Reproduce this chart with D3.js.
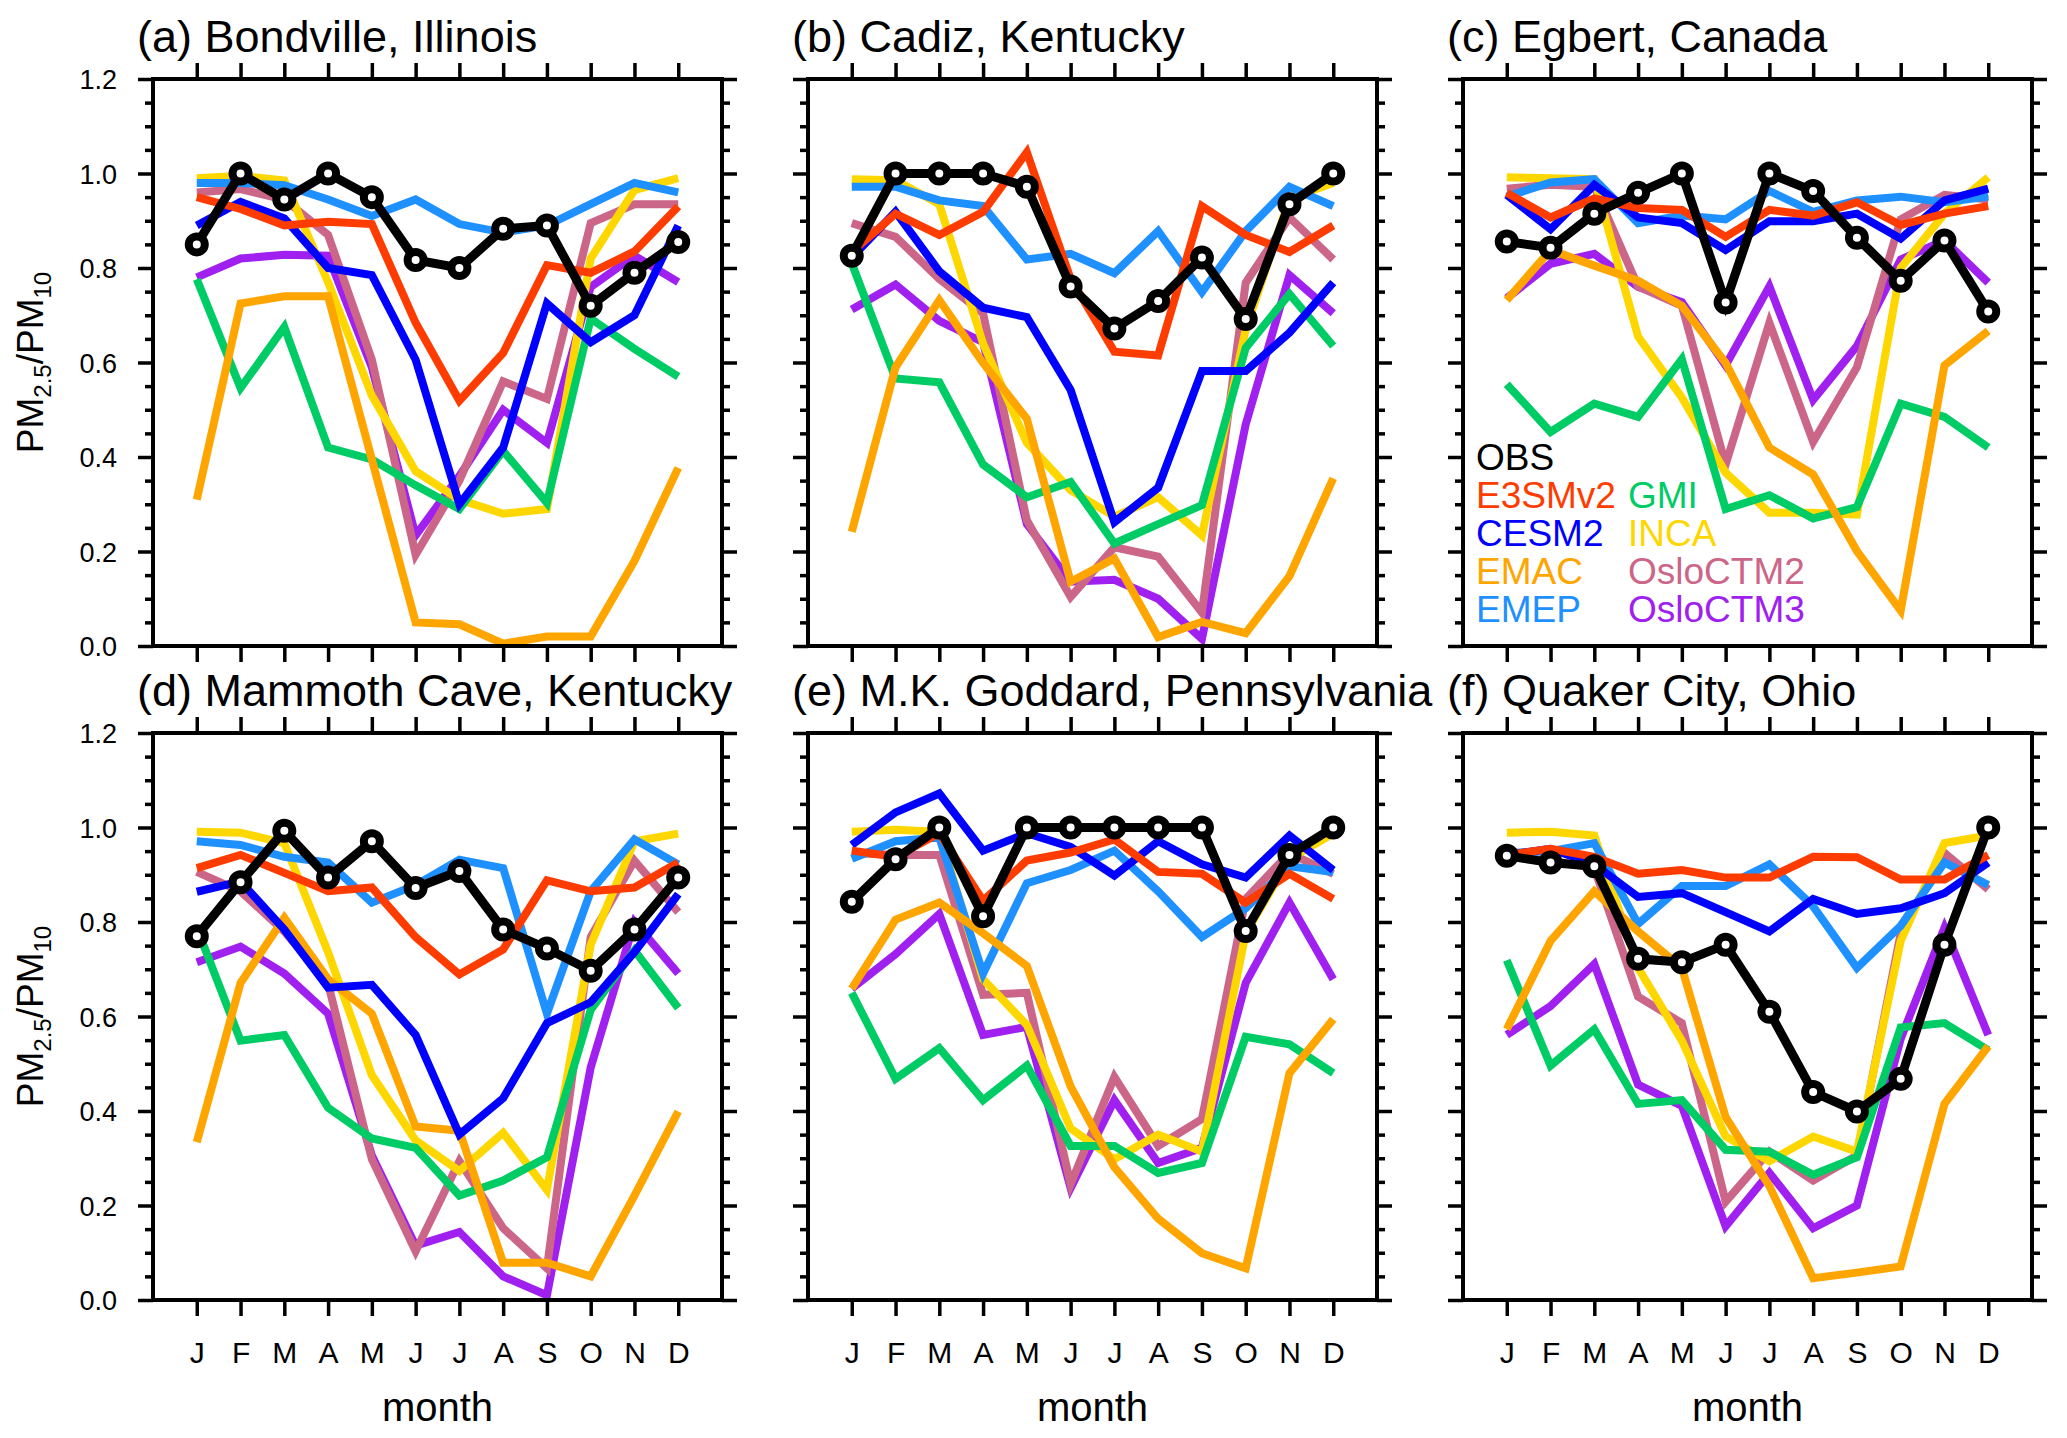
<!DOCTYPE html>
<html>
<head>
<meta charset="utf-8">
<script src="https://cdn.jsdelivr.net/npm/d3@7"></script>
<style>
  body { margin: 0; background: #fff; }
  text { font-family: "Liberation Sans", Arial, Helvetica, sans-serif; fill: #000; }
</style>
</head>
<body>
<div id="plot"></div>
<script>
const months = ["J", "F", "M", "A", "M", "J", "J", "A", "S", "O", "N", "D"];
const sites = ["(a) Bondville, Illinois", "(b) Cadiz, Kentucky", "(c) Egbert, Canada",
               "(d) Mammoth Cave, Kentucky", "(e) M.K. Goddard, Pennsylvania", "(f) Quaker City, Ohio"];
const models = ["OBS", "E3SMv2", "CESM2", "EMAC", "EMEP", "GMI", "INCA", "OsloCTM2", "OsloCTM3"];
const colors = ["#000000", "#ff3c00", "#0000ff", "#ffa500", "#1e90ff", "#00cc66", "#ffd700", "#cc6688", "#a020f0"];
const yTicks = [0, 0.2, 0.4, 0.6, 0.8, 1.0, 1.2];

// one row per site (a..f), 12 monthly PM2.5/PM10 ratios each
const obs = [
  [0.85, 1.0, 0.945, 1.0, 0.95, 0.817, 0.80, 0.883, 0.89, 0.72, 0.79, 0.855],
  [0.826, 1.0, 1.0, 1.0, 0.972, 0.761, 0.672, 0.73, 0.822, 0.692, 0.935, 1.0],
  [0.856, 0.843, 0.915, 0.959, 1.0, 0.727, 1.0, 0.963, 0.864, 0.773, 0.858, 0.708],
  [0.77, 0.884, 0.993, 0.894, 0.971, 0.872, 0.908, 0.784, 0.744, 0.697, 0.784, 0.894],
  [0.843, 0.933, 1.0, 0.812, 1.0, 1.0, 1.0, 1.0, 1.0, 0.781, 0.942, 1.0],
  [0.94, 0.926, 0.918, 0.722, 0.715, 0.752, 0.61, 0.44, 0.399, 0.468, 0.752, 1.0]
];
const e3smv2 = [
  [0.95, 0.925, 0.89, 0.898, 0.893, 0.684, 0.519, 0.62, 0.806, 0.79, 0.835, 0.93],
  [0.834, 0.915, 0.87, 0.919, 1.045, 0.777, 0.623, 0.615, 0.931, 0.87, 0.834, 0.89],
  [0.959, 0.907, 0.947, 0.927, 0.923, 0.866, 0.923, 0.911, 0.939, 0.891, 0.915, 0.931],
  [0.914, 0.942, 0.904, 0.865, 0.873, 0.768, 0.689, 0.742, 0.888, 0.865, 0.873, 0.926],
  [0.951, 0.938, 0.988, 0.845, 0.93, 0.947, 0.975, 0.906, 0.902, 0.841, 0.902, 0.849],
  [0.942, 0.955, 0.938, 0.902, 0.91, 0.894, 0.894, 0.938, 0.937, 0.89, 0.89, 0.942]
];
const cesm2 = [
  [0.89, 0.94, 0.905, 0.80, 0.785, 0.606, 0.30, 0.42, 0.725, 0.643, 0.70, 0.89],
  [0.822, 0.919, 0.793, 0.716, 0.696, 0.542, 0.262, 0.335, 0.582, 0.582, 0.663, 0.769],
  [0.955, 0.882, 0.976, 0.907, 0.895, 0.838, 0.899, 0.899, 0.915, 0.862, 0.943, 0.968],
  [0.864, 0.886, 0.784, 0.661, 0.667, 0.561, 0.35, 0.427, 0.586, 0.63, 0.736, 0.859],
  [0.963, 1.032, 1.072, 0.951, 0.988, 0.959, 0.898, 0.971, 0.922, 0.894, 0.983, 0.91],
  [0.942, 0.955, 0.922, 0.853, 0.861, 0.821, 0.78, 0.849, 0.817, 0.829, 0.861, 0.926]
];
const emac = [
  [0.31, 0.725, 0.74, 0.74, 0.395, 0.05, 0.046, 0.005, 0.02, 0.02, 0.18, 0.377],
  [0.242, 0.59, 0.732, 0.599, 0.481, 0.136, 0.185, 0.019, 0.051, 0.027, 0.148, 0.355],
  [0.732, 0.838, 0.805, 0.773, 0.72, 0.599, 0.42, 0.363, 0.201, 0.075, 0.594, 0.667],
  [0.334, 0.671, 0.809, 0.679, 0.606, 0.367, 0.358, 0.079, 0.079, 0.05, 0.221, 0.399],
  [0.659, 0.805, 0.841, 0.776, 0.707, 0.452, 0.281, 0.172, 0.099, 0.067, 0.48, 0.594],
  [0.573, 0.76, 0.865, 0.78, 0.703, 0.387, 0.241, 0.046, 0.058, 0.071, 0.415, 0.537]
];
const emep = [
  [0.98, 0.98, 0.975, 0.945, 0.91, 0.945, 0.893, 0.875, 0.89, 0.935, 0.98, 0.96],
  [0.972, 0.972, 0.943, 0.931, 0.818, 0.83, 0.789, 0.878, 0.749, 0.878, 0.972, 0.931],
  [0.951, 0.981, 0.988, 0.895, 0.911, 0.903, 0.963, 0.919, 0.943, 0.951, 0.939, 0.951],
  [0.971, 0.963, 0.938, 0.926, 0.841, 0.878, 0.932, 0.914, 0.606, 0.865, 0.975, 0.922],
  [0.934, 0.971, 0.979, 0.691, 0.882, 0.91, 0.951, 0.865, 0.768, 0.829, 0.918, 0.906],
  [0.946, 0.95, 0.967, 0.796, 0.876, 0.876, 0.922, 0.833, 0.703, 0.792, 0.926, 0.878]
];
const gmi = [
  [0.776, 0.546, 0.675, 0.42, 0.395, 0.34, 0.29, 0.413, 0.303, 0.693, 0.629, 0.57],
  [0.81, 0.566, 0.558, 0.384, 0.315, 0.347, 0.217, 0.258, 0.298, 0.631, 0.745, 0.635],
  [0.554, 0.453, 0.513, 0.485, 0.607, 0.29, 0.319, 0.27, 0.294, 0.513, 0.485, 0.42],
  [0.788, 0.549, 0.561, 0.407, 0.342, 0.322, 0.221, 0.253, 0.302, 0.614, 0.74, 0.618],
  [0.65, 0.468, 0.533, 0.423, 0.496, 0.326, 0.326, 0.269, 0.29, 0.557, 0.541, 0.48],
  [0.719, 0.496, 0.573, 0.415, 0.423, 0.318, 0.314, 0.265, 0.302, 0.577, 0.586, 0.529]
];
const inca = [
  [0.99, 0.995, 0.985, 0.77, 0.53, 0.37, 0.31, 0.28, 0.29, 0.82, 0.965, 0.99],
  [0.988, 0.986, 0.935, 0.64, 0.43, 0.33, 0.274, 0.315, 0.234, 0.67, 0.947, 0.98],
  [0.992, 0.99, 0.988, 0.655, 0.526, 0.367, 0.282, 0.282, 0.278, 0.80, 0.915, 0.992],
  [0.991, 0.989, 0.967, 0.736, 0.476, 0.338, 0.273, 0.354, 0.233, 0.752, 0.971, 0.987],
  [0.991, 0.995, 0.991, 0.679, 0.582, 0.363, 0.298, 0.35, 0.314, 0.776, 0.934, 0.987],
  [0.989, 0.991, 0.983, 0.703, 0.549, 0.346, 0.294, 0.346, 0.314, 0.76, 0.967, 0.983]
];
const osloctm2 = [
  [0.96, 0.967, 0.945, 0.87, 0.606, 0.193, 0.35, 0.56, 0.523, 0.895, 0.935, 0.935],
  [0.895, 0.866, 0.777, 0.704, 0.266, 0.104, 0.209, 0.189, 0.071, 0.769, 0.907, 0.818],
  [0.968, 0.976, 0.972, 0.761, 0.72, 0.384, 0.684, 0.432, 0.59, 0.903, 0.955, 0.945],
  [0.906, 0.865, 0.78, 0.67, 0.298, 0.103, 0.294, 0.152, 0.067, 0.768, 0.93, 0.821],
  [0.946, 0.942, 0.942, 0.646, 0.65, 0.245, 0.472, 0.326, 0.383, 0.849, 0.946, 0.902],
  [0.938, 0.93, 0.914, 0.642, 0.586, 0.208, 0.314, 0.253, 0.306, 0.776, 0.946, 0.869]
];
const osloctm3 = [
  [0.78, 0.82, 0.828, 0.826, 0.59, 0.234, 0.36, 0.50, 0.43, 0.76, 0.826, 0.77],
  [0.712, 0.765, 0.688, 0.643, 0.258, 0.136, 0.14, 0.1, 0.015, 0.469, 0.785, 0.704],
  [0.736, 0.809, 0.83, 0.76, 0.728, 0.594, 0.761, 0.521, 0.635, 0.818, 0.858, 0.769],
  [0.715, 0.748, 0.691, 0.606, 0.306, 0.115, 0.144, 0.05, 0.01, 0.492, 0.80, 0.691],
  [0.659, 0.732, 0.817, 0.561, 0.578, 0.237, 0.423, 0.29, 0.322, 0.671, 0.841, 0.679],
  [0.561, 0.622, 0.711, 0.456, 0.411, 0.156, 0.269, 0.152, 0.2, 0.553, 0.788, 0.561]
];
const series = [obs, e3smv2, cesm2, emac, emep, gmi, inca, osloctm2, osloctm3];

const W = 2067;
const H = 1438;
const pw = 569;   // panel frame width
const ph = 567;   // panel frame height
const colX = [153, 808, 1463];
const rowY = [79, 733];

const svg = d3.select("#plot")
              .append("svg")
              .attr("width", W)
              .attr("height", H);
svg.append("rect").attr("width", W).attr("height", H).attr("fill", "#fff");

sites.forEach((site, s) => {
  const col = s % 3;
  const row = Math.floor(s / 3);
  const x0 = colX[col];
  const y0 = rowY[row];

  const xScale = d3.scaleLinear().domain([0, 13]).range([x0, x0 + pw]);
  const yScale = d3.scaleLinear().domain([0, 1.2]).range([y0 + ph, y0]);

  const g = svg.append("g").attr("class", "panel");

  //-------------------axes---------------------------
  const minor = d3.range(0, 1.2001, 0.05).filter(v => Math.abs(v * 5 - Math.round(v * 5)) > 1e-6);
  const monthIdx = d3.range(1, 13);

  g.append("g").attr("transform", "translate(" + x0 + ",0)")
   .call(d3.axisLeft(yScale).tickValues(minor).tickSize(8).tickFormat(""));
  g.append("g").attr("transform", "translate(" + (x0 + pw) + ",0)")
   .call(d3.axisRight(yScale).tickValues(minor).tickSize(8).tickFormat(""));
  const yl = g.append("g").attr("transform", "translate(" + x0 + ",0)")
   .call(d3.axisLeft(yScale).tickValues(yTicks).tickSize(15).tickFormat(d3.format(".1f")));
  g.append("g").attr("transform", "translate(" + (x0 + pw) + ",0)")
   .call(d3.axisRight(yScale).tickValues(yTicks).tickSize(15).tickFormat(""));
  const xb = g.append("g").attr("transform", "translate(0," + (y0 + ph) + ")")
   .call(d3.axisBottom(xScale).tickValues(monthIdx).tickSize(16).tickFormat(d => months[d - 1]));
  g.append("g").attr("transform", "translate(0," + y0 + ")")
   .call(d3.axisTop(xScale).tickValues(monthIdx).tickSize(16).tickFormat(""));

  g.selectAll(".domain").remove();
  g.selectAll(".tick line").attr("stroke", "#000").attr("stroke-width", 3.5);

  yl.selectAll(".tick text")
    .attr("x", -36)
    .attr("dy", "0.36em")
    .style("font-size", "27px")
    .style("font-family", "Liberation Sans, Arial, sans-serif")
    .attr("text-anchor", "end")
    .style("display", col === 0 ? null : "none");

  xb.selectAll(".tick text")
    .attr("y", 63)
    .attr("dy", 0)
    .style("font-size", "30px")
    .style("font-family", "Liberation Sans, Arial, sans-serif")
    .style("display", row === 1 ? null : "none");

  //-------------------lines---------------------------
  const line = d3.line()
                 .x((d, i) => xScale(i + 1))
                 .y(d => yScale(d));

  const clipId = "clip" + s;
  g.append("clipPath").attr("id", clipId)
   .append("rect").attr("x", x0).attr("y", y0).attr("width", pw).attr("height", ph);

  const plot = g.append("g").attr("clip-path", "url(#" + clipId + ")");
  // models drawn last-to-first so E3SMv2 ends on top, OBS above all
  for (let m = models.length - 1; m >= 0; m--) {
    plot.append("path")
        .datum(series[m][s])
        .attr("fill", "none")
        .attr("stroke", colors[m])
        .attr("stroke-width", m === 0 ? 9 : 8)
        .attr("stroke-linejoin", "miter")
        .attr("d", line);
  }
  plot.selectAll("circle")
      .data(obs[s])
      .enter()
      .append("circle")
      .attr("cx", (d, i) => xScale(i + 1))
      .attr("cy", d => yScale(d))
      .attr("r", 8)
      .attr("fill", "#fff")
      .attr("stroke", "#000")
      .attr("stroke-width", 8);

  // frame
  g.append("rect")
   .attr("x", x0).attr("y", y0).attr("width", pw).attr("height", ph)
   .attr("fill", "none").attr("stroke", "#000").attr("stroke-width", 4);

  //-------------------labels---------------------------
  g.append("text")
   .attr("x", x0 - 16)
   .attr("y", y0 - 27)
   .style("font-size", "45px")
   .text(site);

  if (row === 1) {
    g.append("text")
     .attr("x", x0 + pw / 2)
     .attr("y", 1421)
     .attr("text-anchor", "middle")
     .style("font-size", "40px")
     .text("month");
  }

  if (col === 0) {
    const lab = g.append("text")
     .attr("transform", "translate(43," + (y0 + ph / 2) + ") rotate(-90)")
     .attr("text-anchor", "middle")
     .style("font-size", "37px");
    lab.append("tspan").text("PM");
    lab.append("tspan").attr("dy", 8).style("font-size", "24px").text("2.5");
    lab.append("tspan").attr("dy", -8).text("/PM");
    lab.append("tspan").attr("dy", 8).style("font-size", "24px").text("10");
  }
});

//--------------------legend in panel (c)---------------------------
const legend = svg.append("g").attr("id", "legend");
legend.selectAll("text")
      .data(models)
      .enter()
      .append("text")
      .attr("x", (d, i) => i >= 5 ? 1628 : 1476)
      .attr("y", (d, i) => 457 + 37.8 * (i >= 5 ? i - 4 : i))
      .attr("dy", "0.36em")
      .style("font-size", "37px")
      .style("fill", (d, i) => colors[i])
      .text(d => d);
</script>
</body>
</html>
